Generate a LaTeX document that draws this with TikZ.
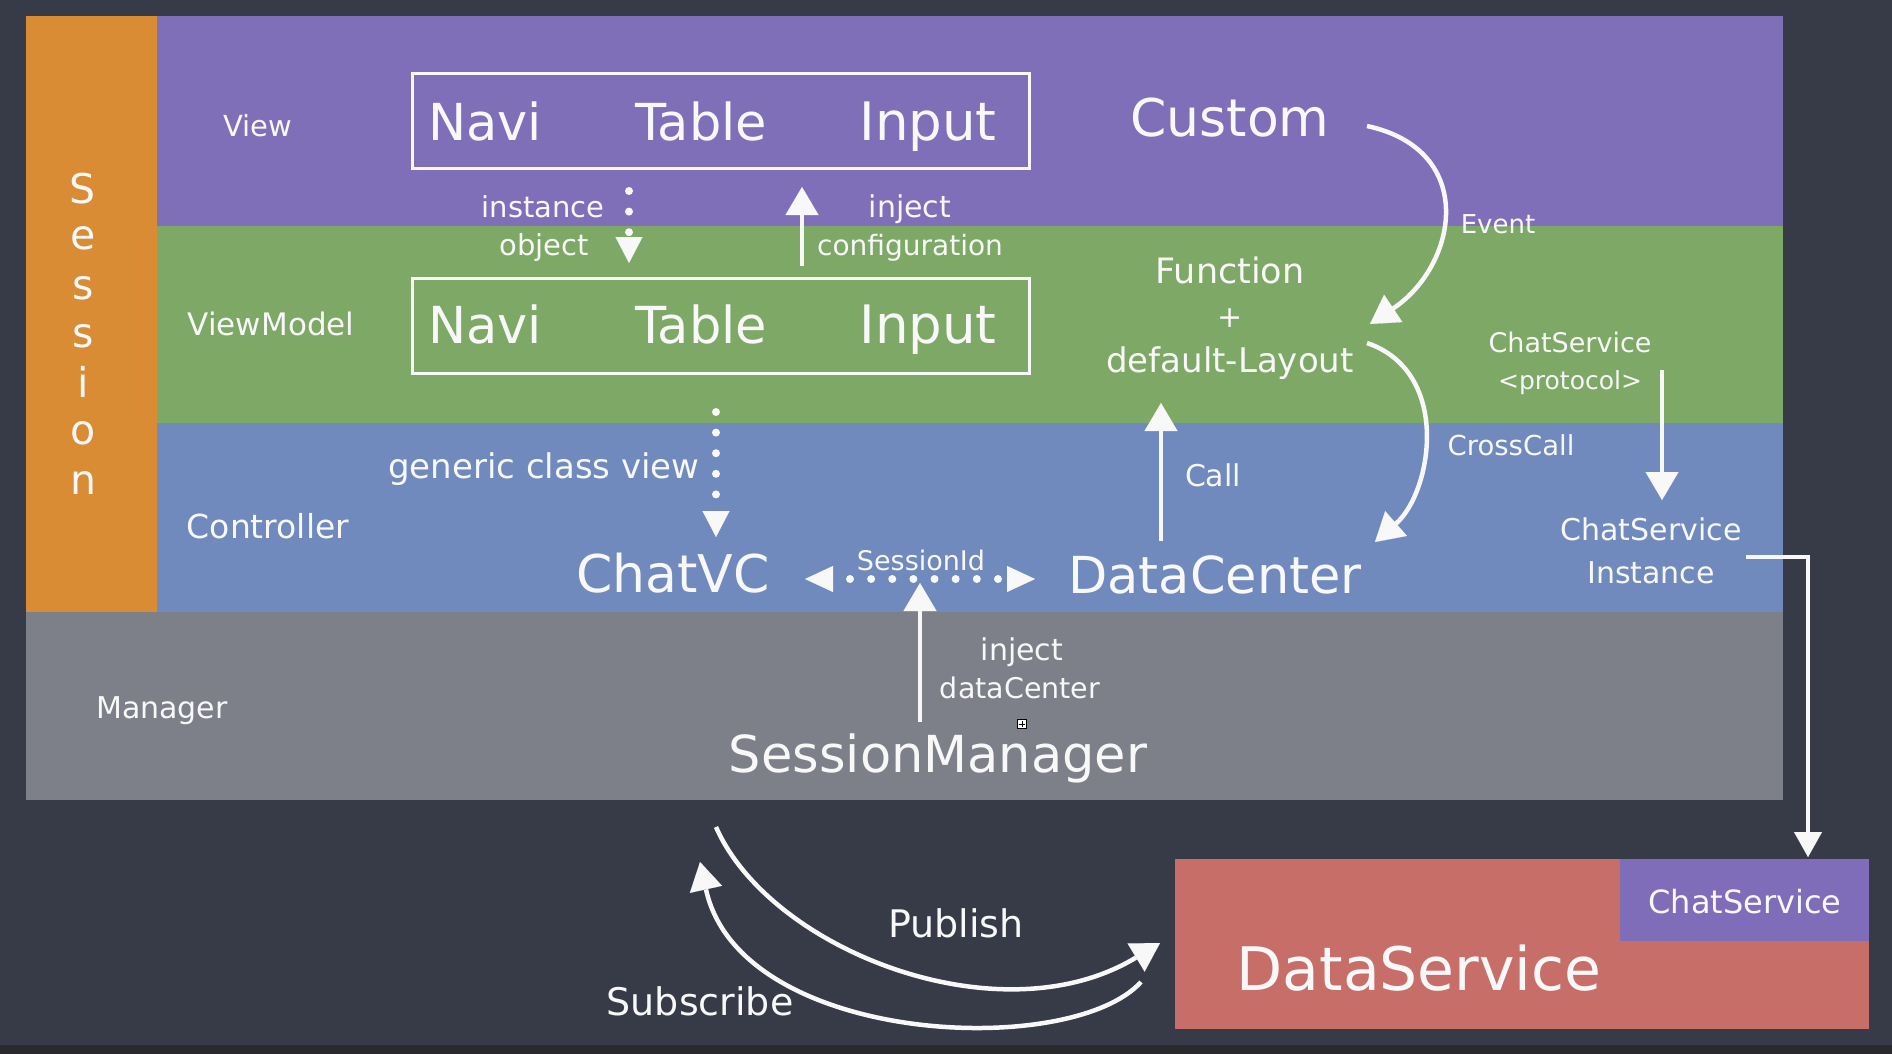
\documentclass[tikz,border=0pt]{standalone}
\usepackage{fontspec}
\setmainfont{DejaVu Sans}
\usetikzlibrary{arrows.meta}
\definecolor{bgc}{HTML}{373B48}
\definecolor{stripc}{HTML}{2A2A2C}
\definecolor{viewc}{HTML}{7F6FB8}
\definecolor{vmc}{HTML}{7EA866}
\definecolor{ctrlc}{HTML}{708ABE}
\definecolor{mgrc}{HTML}{7D7F89}
\definecolor{sessc}{HTML}{D98C34}
\definecolor{redc}{HTML}{C76E69}
\definecolor{csc}{HTML}{7F6DB9}
\definecolor{chalk}{HTML}{F8F8F8}
\begin{document}
\begin{tikzpicture}[x=1pt,y=-1pt,
  band/.style={draw=none, inner sep=0pt, outer sep=0pt, anchor=north west},
  txt/.style={text=chalk, inner sep=0pt, anchor=base},
  sz/.style={font=\fontsize{#1}{#1}\selectfont},
  chalkbox/.style={draw=chalk, line width=3pt, inner sep=0pt},
  tipA/.style={-{Triangle[length=28pt,width=33pt,line width=0.1pt]}},
  solidarrow/.style={draw=chalk, line width=4.5pt, tipA},
  dotarrow/.style={draw=chalk, line width=8pt, line cap=round, dash pattern=on 0pt off 20.6pt,
     -{Triangle[length=26pt,width=27pt,line width=0.1pt]}},
  dotdouble/.style={draw=chalk, line width=8pt, line cap=round, dash pattern=on 0pt off 21.14pt, dash phase=4.14pt,
     {Triangle[length=28pt,width=26pt,line width=0.1pt]}-{Triangle[length=28pt,width=26pt,line width=0.1pt]}},
  elbowarrow/.style={draw=chalk, line width=3.5pt, -{Triangle[length=25pt,width=28pt,line width=0.1pt]}},
]
\useasboundingbox (0,0) rectangle (1892,1054);
\fill[bgc] (0,0) rectangle (1892,1054);
\fill[stripc] (0,1045) rectangle (1892,1054);

% bands
\node[band, fill=sessc, minimum width=131pt, minimum height=596pt] (session) at (26,16) {};
\node[band, fill=viewc, minimum width=1626pt, minimum height=209.5pt] (viewband) at (157,16) {};
\node[band, fill=vmc, minimum width=1626pt, minimum height=197pt] (vmband) at (157,225.5) {};
\node[band, fill=ctrlc, minimum width=1626pt, minimum height=189.5pt] (ctrlband) at (157,422.5) {};
\node[band, fill=mgrc, minimum width=1757pt, minimum height=188pt] (mgrband) at (26,612) {};
\node[band, fill=redc, minimum width=694pt, minimum height=170pt] (dsbox) at (1175,859) {};
\node[band, fill=csc, minimum width=249pt, minimum height=82pt] (csbox) at (1620,859) {};

% Session letters
\foreach \l/\y [count=\i] in {S/203,e/249,s/299,s/347,i/397,o/444,n/494}
  \node[txt, sz=41] (sess\i) at (83,\y) {\l};

% layer labels
\node[txt, sz=29] (lview) at (258,136) {View};
\node[txt, sz=31] (lvm) at (271,335) {ViewModel};
\node[txt, sz=33] (lctrl) at (268,538) {Controller};
\node[txt, sz=30] (lmgr) at (162,718) {Manager};

% boxes
\node[chalkbox, minimum width=617pt, minimum height=94pt] (vbox) at (720.5,121) {};
\node[chalkbox, minimum width=617pt, minimum height=95pt] (vmbox) at (720.5,325.5) {};

\node[txt, sz=51] (vnavi) at (485,140) {Navi};
\node[txt, sz=51] (vtable) at (701,140) {Table};
\node[txt, sz=53] (vinput) at (928,140) {Input};
\node[txt, sz=51] (mnavi) at (485,343) {Navi};
\node[txt, sz=51] (mtable) at (701,343) {Table};
\node[txt, sz=53] (minput) at (928,343) {Input};

\node[txt, sz=52] (custom) at (1230,136) {Custom};

\node[txt, sz=29] (tinst) at (543,217) {instance};
\node[txt, sz=29] (tobj) at (544,255) {object};
\node[txt, sz=30] (tinj) at (910,217) {inject};
\node[txt, sz=28] (tconf) at (910,255) {configuration};

\node[txt, sz=35] (func) at (1230,283) {Function};
\node[txt, sz=30] (plus) at (1230,327) {+};
\node[txt, sz=34] (deflay) at (1230,372) {default-Layout};

\node[txt, sz=26] (tevent) at (1498,233) {Event};
\node[txt, sz=27] (tcsp) at (1570,352) {ChatService};
\node[txt, sz=25] (tproto) at (1570,389) {<protocol>};

\node[txt, sz=34] (tgen) at (544,478) {generic class view};
\node[txt, sz=27.5] (tcross) at (1511,455) {CrossCall};
\node[txt, sz=30] (tcall) at (1213,486) {Call};
\node[txt, sz=30] (tcsi) at (1651,540) {ChatService};
\node[txt, sz=30] (tinstance) at (1651,583) {Instance};

\node[txt, sz=52] (chatvc) at (673,592) {ChatVC};
\node[txt, sz=51] (dc) at (1215,593) {DataCenter};
\node[txt, sz=27] (tsid) at (921,570) {SessionId};

\node[txt, sz=30] (tinj2) at (1022,660) {inject};
\node[txt, sz=28.5] (tdc) at (1020,698) {dataCenter};
\node[txt, sz=51] (sm) at (938,772) {SessionManager};

\node[txt, sz=38] (tpub) at (956,937) {Publish};
\node[txt, sz=38] (tsub) at (700,1015) {Subscribe};
\node[txt, sz=60] (ds) at (1419,990) {DataService};
\node[txt, sz=32] (cs) at (1745,913) {ChatService};

% small handle icon
\node[draw=black, fill=white, line width=0.8pt, minimum size=9pt, inner sep=0pt] (handle) at (1022,724) {};
\draw[black, line width=0.8pt] ([yshift=-1.5pt]handle.north) -- ([yshift=1.5pt]handle.south)
  ([xshift=1.5pt]handle.west) -- ([xshift=-1.5pt]handle.east);

% connectors
\coordinate (ioA) at (629,191); \coordinate (ioB) at (629,263);
\draw[dotarrow] (ioA) -- (ioB);
\coordinate (injA) at (802,266); \coordinate (injB) at (802,187);
\draw[solidarrow] (injA) -- (injB);
\coordinate (gcA) at (716,412); \coordinate (gcB) at (716,537);
\draw[dotarrow] (gcA) -- (gcB);
\coordinate (sidL) at (805,579); \coordinate (sidR) at (1035,579);
\draw[dotdouble] (sidL) -- (sidR);
\coordinate (smA) at (920,722); \coordinate (smB) at (920,583);
\draw[solidarrow] (smA) -- (smB);
\coordinate (callA) at (1161,541); \coordinate (callB) at (1161,403);
\draw[solidarrow] (callA) -- (callB);
\coordinate (protA) at (1662,370); \coordinate (protB) at (1662,500);
\draw[solidarrow] (protA) -- (protB);

\coordinate (evA) at (1367,126); \coordinate (evB) at (1370,324);
\draw[solidarrow] (evA) .. controls (1478,150) and (1458,265) .. (evB);
\coordinate (ccA) at (1367,343); \coordinate (ccB) at (1375,542);
\draw[solidarrow] (ccA) .. controls (1452,372) and (1432,492) .. (ccB);

\coordinate (elbA) at (1746,557); \coordinate (elbB) at (1808,557); \coordinate (elbC) at (1808,857);
\draw[elbowarrow] (elbA) -- (elbB) -- (elbC);

\coordinate (pubA) at (716,827); \coordinate (pubB) at (1160,943);
\draw[solidarrow] (pubA) .. controls (770,950) and (1000,1040) .. (pubB);
\coordinate (subA) at (1141,982); \coordinate (subB) at (700,862);
\draw[solidarrow] (subA) .. controls (1070,1060) and (740,1045) .. (subB);
\end{tikzpicture}
\end{document}
